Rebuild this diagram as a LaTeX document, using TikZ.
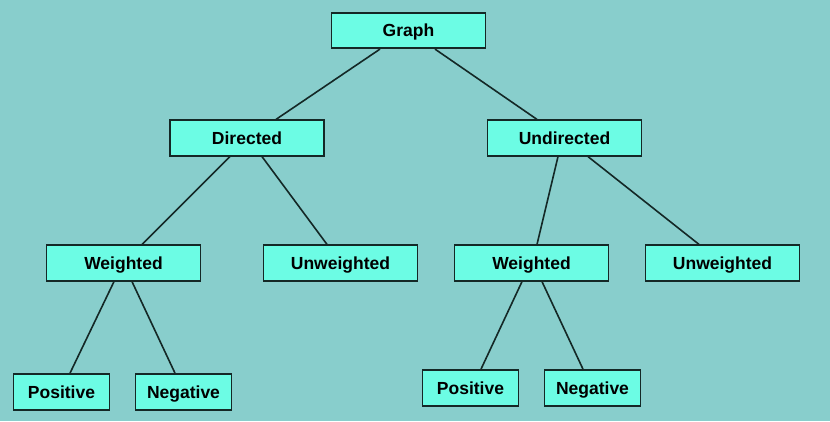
\documentclass[tikz,border=0pt]{standalone}
\usepackage{fontspec}
\setmainfont{Liberation Sans}
\definecolor{bgc}{RGB}{136,206,204}
\definecolor{boxc}{RGB}{108,252,228}
\definecolor{edgec}{RGB}{20,40,38}
\tikzset{
  cat/.style={draw=edgec, fill=boxc, line width=1.7pt, minimum width=154pt, minimum height=35.5pt, inner sep=0pt, text height=12.5pt, text depth=0pt, font=\fontsize{17.5}{20}\selectfont\bfseries},
  leaf/.style={cat, minimum width=96pt, minimum height=36pt},
  conn/.style={draw=edgec, line width=1.6pt}
}
\begin{document}
\begin{tikzpicture}[x=1pt,y=-1pt]
\path[fill=bgc,use as bounding box] (0,0) rectangle (830,421);
\node[cat] (g) at (408.5,30.5) {Graph};
\node[cat] (d) at (247,138) {Directed};
\node[cat] (u) at (564.5,138) {Undirected};
\node[cat] (wl) at (123.5,263) {Weighted};
\node[cat] (ul) at (340.5,263) {Unweighted};
\node[cat] (wr) at (531.5,263) {Weighted};
\node[cat] (ur) at (722.5,263) {Unweighted};
\node[leaf] (pl) at (61.5,392) {Positive};
\node[leaf] (nl) at (183.5,392) {Negative};
\node[leaf] (pr) at (470.5,388) {Positive};
\node[leaf] (nr) at (592.5,388) {Negative};
\draw[conn] ([xshift=-28.5pt]g.south) -- ([xshift=29pt]d.north);
\draw[conn] ([xshift=26.5pt]g.south) -- ([xshift=-27.5pt]u.north);
\draw[conn] ([xshift=-17pt]d.south) -- ([xshift=18.5pt]wl.north);
\draw[conn] ([xshift=15pt]d.south) -- ([xshift=-13.5pt]ul.north);
\draw[conn] ([xshift=-6.5pt]u.south) -- ([xshift=5.5pt]wr.north);
\draw[conn] ([xshift=23.5pt]u.south) -- ([xshift=-23.5pt]ur.north);
\draw[conn] ([xshift=-9.5pt]wl.south) -- ([xshift=8.5pt]pl.north);
\draw[conn] ([xshift=8.5pt]wl.south) -- ([xshift=-8.5pt]nl.north);
\draw[conn] ([xshift=-9.5pt]wr.south) -- ([xshift=10.5pt]pr.north);
\draw[conn] ([xshift=10.5pt]wr.south) -- ([xshift=-9.5pt]nr.north);
\end{tikzpicture}
\end{document}
